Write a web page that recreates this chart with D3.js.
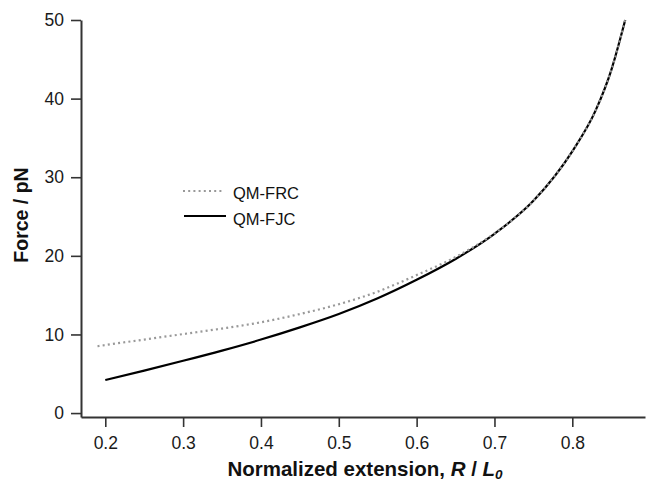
<!DOCTYPE html>
<html>
<head>
<meta charset="utf-8">
<script src="https://cdn.jsdelivr.net/npm/d3@7"></script>
<style>
  html, body { margin: 0; padding: 0; background: #fff; }
  svg { display: block; font-family: "Liberation Sans", Arial, sans-serif; }
</style>
</head>
<body>
<svg id="chart" width="646" height="483"></svg>
<script>
// Normalized extension R / L0 and force (pN) for the two chain models
const frcExt   = [0.19, 0.20, 0.25, 0.30, 0.35, 0.40, 0.45, 0.50, 0.55, 0.60, 0.65, 0.70, 0.75, 0.80, 0.83, 0.85, 0.868];
const frcForce = [8.5, 8.65, 9.35, 10.05, 10.75, 11.55, 12.6, 13.85, 15.45, 17.55, 19.85, 22.85, 27.0, 33.3, 38.5, 43.6, 50.0];

const fjcExt   = [0.20, 0.25, 0.30, 0.35, 0.40, 0.45, 0.50, 0.55, 0.60, 0.65, 0.70, 0.75, 0.80, 0.83, 0.85, 0.868];
const fjcForce = [4.2, 5.4, 6.65, 7.95, 9.35, 10.9, 12.6, 14.6, 16.95, 19.6, 22.8, 27.0, 33.3, 38.5, 43.6, 50.0];

const xTicks = [0.2, 0.3, 0.4, 0.5, 0.6, 0.7, 0.8];
const yTicks = [0, 10, 20, 30, 40, 50];
const seriesNames = ["QM-FRC", "QM-FJC"];

const svg = d3.select("#chart");

const x = d3.scaleLinear().domain([0.1688, 0.8934]).range([81, 645]);
const y = d3.scaleLinear().domain([-0.5, 50]).range([417, 20]);

const axisColor = "#333";

// x axis
const gx = svg.append("g").attr("transform", `translate(0,${y(-0.5)})`)
  .call(d3.axisBottom(x).tickValues(xTicks).tickSize(10).tickSizeOuter(0).tickPadding(6)
        .tickFormat(d3.format(".1f")));
// y axis
const gy = svg.append("g").attr("transform", `translate(${x(0.1688)},0)`)
  .call(d3.axisLeft(y).tickValues(yTicks).tickSize(10).tickSizeOuter(0).tickPadding(7));

[gx, gy].forEach(g => {
  g.select(".domain").attr("stroke", axisColor).attr("stroke-width", 2);
  g.selectAll(".tick line").attr("stroke", axisColor).attr("stroke-width", 1.6);
  g.selectAll(".tick text").attr("fill", "#1a1a1a").attr("font-size", 17.5)
    .attr("font-family", "Liberation Sans, Arial, sans-serif");
});
gx.selectAll(".tick text").attr("dy", "0.9em");

const line = d3.line().curve(d3.curveMonotoneX).x(d => x(d[0])).y(d => y(d[1]));

const frc = d3.zip(frcExt, frcForce);
const fjc = d3.zip(fjcExt, fjcForce);

svg.append("path").datum(fjc).attr("d", line)
  .attr("fill", "none").attr("stroke", "#000").attr("stroke-width", 2.2);
svg.append("path").datum(frc).attr("d", line)
  .attr("fill", "none").attr("stroke", "#999").attr("stroke-width", 2.2)
  .attr("stroke-dasharray", "2,3.2");

// legend
const legend = svg.append("g");
legend.append("line").attr("x1", 183).attr("x2", 224).attr("y1", 191).attr("y2", 191)
  .attr("stroke", "#999").attr("stroke-width", 2.2).attr("stroke-dasharray", "2,3.2");
legend.append("line").attr("x1", 184).attr("x2", 226).attr("y1", 216).attr("y2", 216)
  .attr("stroke", "#000").attr("stroke-width", 2);
legend.selectAll("text.lab").data(seriesNames).enter().append("text")
  .attr("x", 233).attr("y", (d, i) => 198.5 + i * 26)
  .attr("font-size", 16.5).attr("fill", "#111").text(d => d);

// axis titles
const xt = svg.append("text").attr("x", 365).attr("y", 476).attr("text-anchor", "middle")
  .attr("font-size", 20.5).attr("font-weight", "bold").attr("fill", "#111");
xt.append("tspan").text("Normalized extension, ");
xt.append("tspan").attr("font-style", "italic").text("R");
xt.append("tspan").text(" / ");
xt.append("tspan").attr("font-style", "italic").text("L");
xt.append("tspan").attr("font-style", "italic").attr("font-size", 13.5).attr("dy", 3).text("0");

svg.append("text").attr("transform", "translate(28,215) rotate(-90)")
  .attr("text-anchor", "middle").attr("font-size", 19.5).attr("font-weight", "bold")
  .attr("fill", "#111").text("Force / pN");
</script>
</body>
</html>
